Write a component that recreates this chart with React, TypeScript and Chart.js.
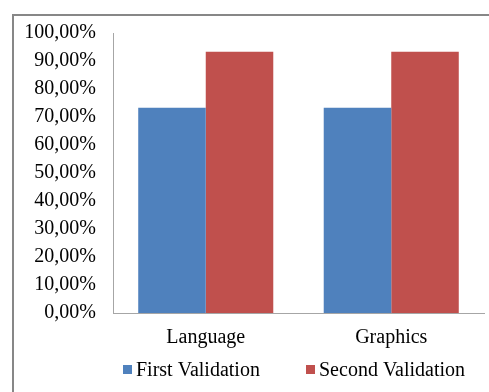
import React, { useEffect, useRef } from "react";
import { Chart, registerables } from "chart.js";

Chart.register(...registerables);

// Validation results per aspect (percent)
const categories = ["Language", "Graphics"];
const firstValidation = [73.33, 73.33];
const secondValidation = [93.33, 93.33];
const seriesNames = ["First Validation", "Second Validation"];
const seriesColors = ["#4F81BD", "#C0504D"];

const FONT_FAMILY = "'Liberation Serif', 'Times New Roman', serif";
const FONT_SIZE = 20;

const formatPercent = (v: number) => v.toFixed(2).replace(".", ",") + "%";

// Outer frame and the bottom legend row
const framePlugin = {
  id: "frameAndLegend",
  beforeDraw(chart: any) {
    const ctx = chart.ctx;
    ctx.save();
    ctx.fillStyle = "#ffffff";
    ctx.fillRect(0, 0, chart.width, chart.height);
    ctx.strokeStyle = "#878787";
    ctx.lineWidth = 2;
    ctx.strokeRect(13, 15, chart.width + 20, chart.height + 20);
    ctx.restore();
  },
  afterDraw(chart: any) {
    const ctx = chart.ctx;
    ctx.save();
    ctx.font = `${FONT_SIZE}px ${FONT_FAMILY}`;
    ctx.textBaseline = "alphabetic";
    ctx.textAlign = "left";
    const baseline = 376;
    const boxSize = 9;
    const starts = [123, 306];
    chart.data.datasets.forEach((ds: any, i: number) => {
      const x = starts[i];
      ctx.fillStyle = ds.backgroundColor;
      ctx.fillRect(x, baseline - 11, boxSize, boxSize);
      ctx.fillStyle = "#000000";
      ctx.fillText(ds.label, x + boxSize + 4, baseline);
    });
    ctx.restore();
  },
};

export default function App() {
  const canvasRef = useRef<HTMLCanvasElement>(null);

  useEffect(() => {
    if (!canvasRef.current) return;
    const chart = new Chart(canvasRef.current, {
      type: "bar",
      data: {
        labels: categories,
        datasets: [
          {
            label: seriesNames[0],
            data: firstValidation,
            backgroundColor: seriesColors[0],
            barPercentage: 1,
            categoryPercentage: 0.728,
          },
          {
            label: seriesNames[1],
            data: secondValidation,
            backgroundColor: seriesColors[1],
            barPercentage: 1,
            categoryPercentage: 0.728,
          },
        ],
      },
      options: {
        responsive: false,
        animation: false,
        layout: { padding: { top: 33, right: 5, bottom: 0, left: 0 } },
        plugins: {
          legend: { display: false },
          tooltip: { enabled: false },
        },
        scales: {
          x: {
            grid: { display: false, drawTicks: false },
            border: { display: true, color: "#a6a6a6", width: 1 },
            ticks: {
              color: "#000000",
              padding: 13,
              font: { family: FONT_FAMILY, size: FONT_SIZE },
            },
            afterFit: (scale: any) => {
              scale.height = 79;
            },
          },
          y: {
            min: 0,
            max: 100,
            grid: { display: false, drawTicks: false },
            border: { display: true, color: "#a6a6a6", width: 1 },
            ticks: {
              stepSize: 10,
              color: "#000000",
              padding: 17,
              font: { family: FONT_FAMILY, size: FONT_SIZE },
              callback: (v: any) => formatPercent(Number(v)),
            },
            afterFit: (scale: any) => {
              scale.width = 113;
            },
          },
        },
      },
      plugins: [framePlugin],
    });
    return () => chart.destroy();
  }, []);

  return (
    <div style={{ position: "absolute", left: 0, top: 0, width: 489, height: 392 }}>
      <canvas ref={canvasRef} width={489} height={392} />
    </div>
  );
}
